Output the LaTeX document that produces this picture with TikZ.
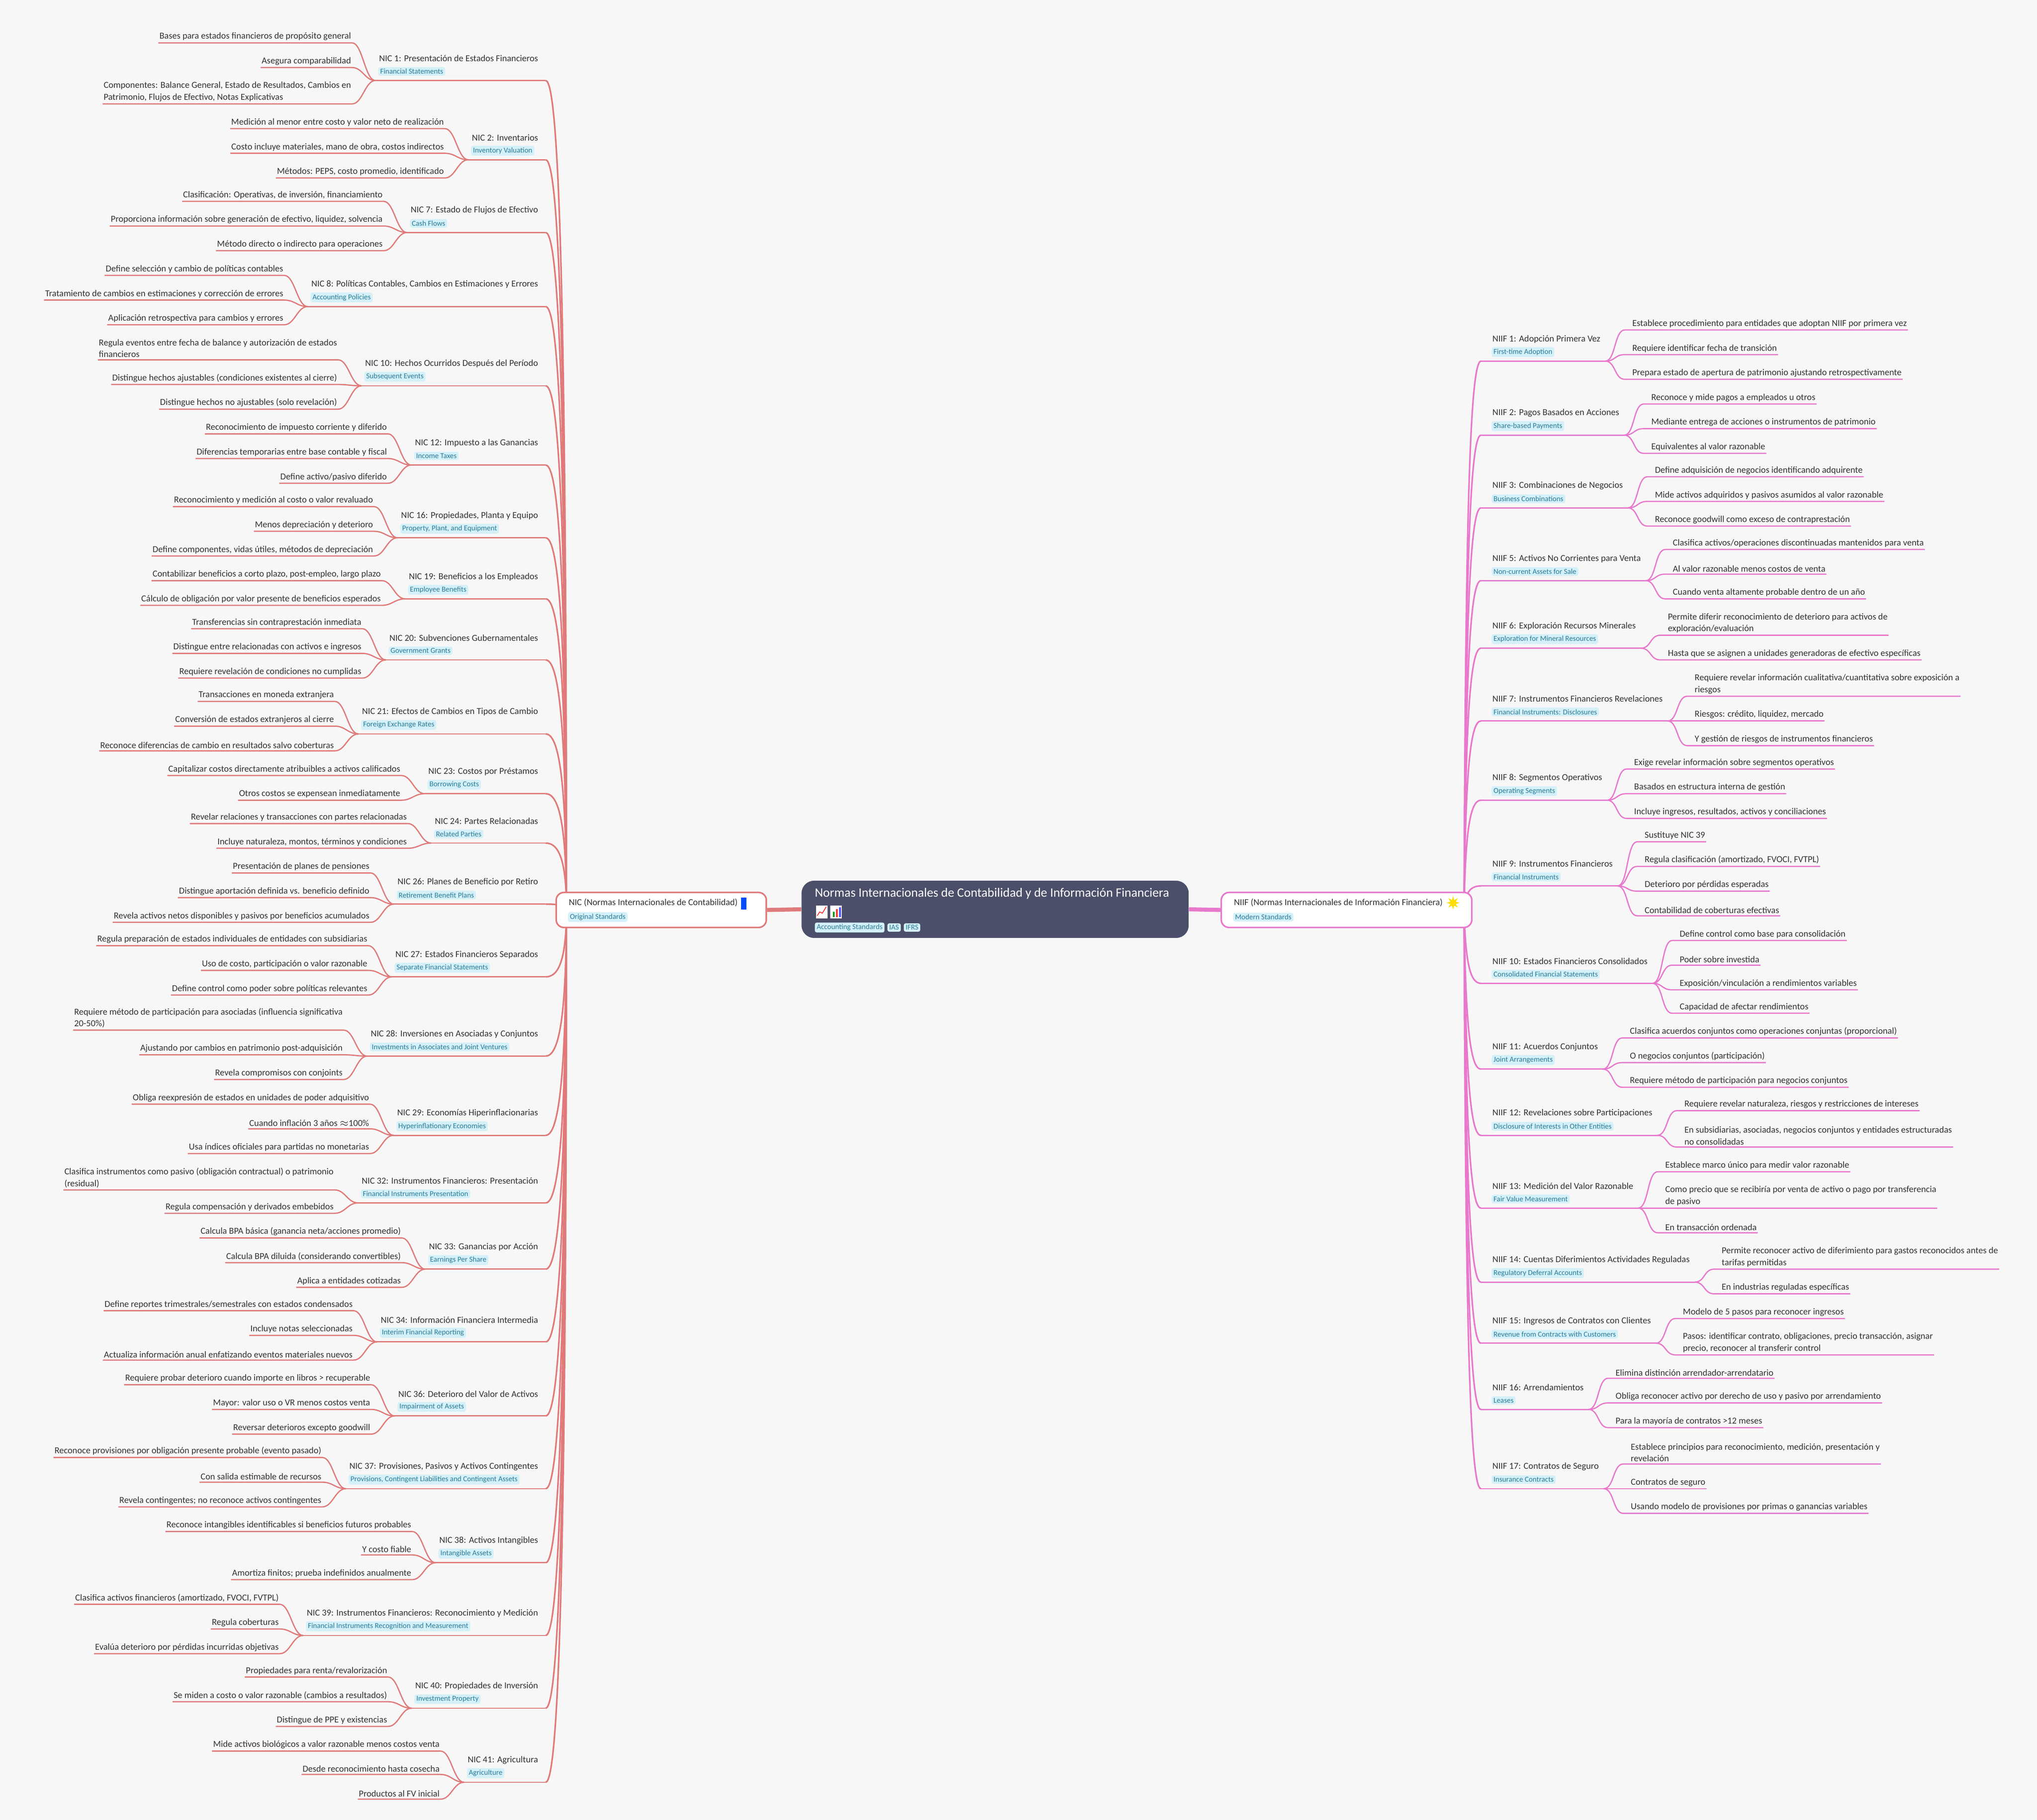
\documentclass[tikz,border=0pt]{standalone}
\usepackage{fontspec}
\setmainfont{Carlito}
\usetikzlibrary{shapes.geometric,calc}
\definecolor{bg}{HTML}{F7F7F7}
\definecolor{cL}{HTML}{E07A7A}
\definecolor{cR}{HTML}{E878CC}
\definecolor{tagf}{HTML}{D4F0F8}
\definecolor{tagt}{HTML}{2B7C9C}
\definecolor{ctr}{HTML}{4B4F6A}
\definecolor{txt}{HTML}{333333}
\newcommand\fLeaf{\fontsize{5.85pt}{7.6pt}\selectfont}
\newcommand\fTag{\fontsize{4.8pt}{5.4pt}\selectfont}
\tikzset{
 leaf/.style={inner xsep=0.5pt,inner ysep=1.3pt,align=left,text=txt,font=\fLeaf},
 ttl/.style={inner sep=0.5pt,text=txt,font=\fLeaf},
 tag/.style={fill=tagf,text=tagt,font=\fTag,rounded corners=1.2pt,inner xsep=1.2pt,inner ysep=1.1pt},
 lcL/.style={draw=cL,line width=0.8pt},
 lcR/.style={draw=cR,line width=0.8pt},
 bL/.style={draw=cL,line width=1pt},
 bR/.style={draw=cR,line width=1pt}
}
% left topic: id, title y, title, tag
\newcommand\Lt[4]{%
 \node[ttl,anchor=east] (#1) at (415,#2) {#3};
 \node[tag,anchor=west] (#1g) at (#1.west |- 0,#2+10) {#4};
 \path (#1.west |- 0,#2+17) ++(-2,0) coordinate (#1a);
 \coordinate (#1b) at (420,#2+17);
 \draw[lcL] (#1a) -- (#1b);
 \draw[bL] (#1b) .. controls (430,#2+17) and (436,{#2+17+(700-(#2+17))*0.25}) .. (nicL);
}
\newcommand\Ll[3]{%
 \path (#1a) ++(-18,0) coordinate (tmp);
 \node[leaf,anchor=south east] (#1-#2) at (tmp |- 0,#2) {#3};
 \draw[lcL] (#1-#2.south west) -- (#1-#2.south east) .. controls +(8,0) and +(-8,0) .. (#1a);
}
\newcommand\Rt[4]{%
 \node[ttl,anchor=west] (#1) at (1148,#2) {#3};
 \node[tag,anchor=west] (#1g) at (#1.west |- 0,#2+10) {#4};
 \coordinate (#1a) at (1140,#2+17);
 \path (#1.east |- 0,#2+17) ++(3,0) coordinate (#1b);
 \draw[bR] (niifR) .. controls (1128,{700+((#2+17)-700)*0.75}) and (1132,#2+17) .. (#1a);
 \draw[lcR] (#1a) -- (#1b);
}
\newcommand\Rl[3]{%
 \path (#1b) ++(15,0) coordinate (tmp);
 \path (tmp |- 0,#2) coordinate (#1s#2) ++(5,0) coordinate (tmpb);
 \node[leaf,anchor=south west] (#1-#2) at (tmpb) {#3};
 \draw[lcR] (#1b) .. controls +(8,0) and +(-8,0) .. (#1s#2) -- (#1-#2.south east);
}
\begin{document}
\begin{tikzpicture}[x=0.02929cm,y=-0.02929cm]
\fill[bg] (0,0) rectangle (1568,1401);
\useasboundingbox (0,0) rectangle (1568,1401);
\coordinate (nicL) at (436,700);
\coordinate (niifR) at (1127,700);

\Lt{a1}{45}{NIC 1: Presentación de Estados Financieros}{Financial Statements}
\Ll{a1}{33}{Bases para estados financieros de propósito general}
\Ll{a1}{52}{Asegura comparabilidad}
\Ll{a1}{80}{Componentes: Balance General, Estado de Resultados, Cambios en\\Patrimonio, Flujos de Efectivo, Notas Explicativas}
\Lt{a2}{106}{NIC 2: Inventarios}{Inventory Valuation}
\Ll{a2}{99}{Medición al menor entre costo y valor neto de realización}
\Ll{a2}{118}{Costo incluye materiales, mano de obra, costos indirectos}
\Ll{a2}{137}{Métodos: PEPS, costo promedio, identificado}
\Lt{a7}{162}{NIC 7: Estado de Flujos de Efectivo}{Cash Flows}
\Ll{a7}{155}{Clasificación: Operativas, de inversión, financiamiento}
\Ll{a7}{174}{Proporciona información sobre generación de efectivo, liquidez, solvencia}
\Ll{a7}{193}{Método directo o indirecto para operaciones}
\Lt{a8}{219}{NIC 8: Políticas Contables, Cambios en Estimaciones y Errores}{Accounting Policies}
\Ll{a8}{212}{Define selección y cambio de políticas contables}
\Ll{a8}{231}{Tratamiento de cambios en estimaciones y corrección de errores}
\Ll{a8}{250}{Aplicación retrospectiva para cambios y errores}
\Lt{a10}{280}{NIC 10: Hechos Ocurridos Después del Período}{Subsequent Events}
\Ll{a10}{277}{Regula eventos entre fecha de balance y autorización de estados\\financieros}
\Ll{a10}{296}{Distingue hechos ajustables (condiciones existentes al cierre)}
\Ll{a10}{315}{Distingue hechos no ajustables (solo revelación)}
\Lt{a12}{341}{NIC 12: Impuesto a las Ganancias}{Income Taxes}
\Ll{a12}{334}{Reconocimiento de impuesto corriente y diferido}
\Ll{a12}{353}{Diferencias temporarias entre base contable y fiscal}
\Ll{a12}{372}{Define activo/pasivo diferido}
\Lt{a16}{397}{NIC 16: Propiedades, Planta y Equipo}{Property, Plant, and Equipment}
\Ll{a16}{390}{Reconocimiento y medición al costo o valor revaluado}
\Ll{a16}{409}{Menos depreciación y deterioro}
\Ll{a16}{428}{Define componentes, vidas útiles, métodos de depreciación}
\Lt{a19}{444}{NIC 19: Beneficios a los Empleados}{Employee Benefits}
\Ll{a19}{447}{Contabilizar beneficios a corto plazo, post-empleo, largo plazo}
\Ll{a19}{466}{Cálculo de obligación por valor presente de beneficios esperados}
\Lt{a20}{491}{NIC 20: Subvenciones Gubernamentales}{Government Grants}
\Ll{a20}{484}{Transferencias sin contraprestación inmediata}
\Ll{a20}{503}{Distingue entre relacionadas con activos e ingresos}
\Ll{a20}{522}{Requiere revelación de condiciones no cumplidas}
\Lt{a21}{548}{NIC 21: Efectos de Cambios en Tipos de Cambio}{Foreign Exchange Rates}
\Ll{a21}{540}{Transacciones en moneda extranjera}
\Ll{a21}{559}{Conversión de estados extranjeros al cierre}
\Ll{a21}{578}{Reconoce diferencias de cambio en resultados salvo coberturas}
\Lt{a23}{594}{NIC 23: Costos por Préstamos}{Borrowing Costs}
\Ll{a23}{597}{Capitalizar costos directamente atribuibles a activos calificados}
\Ll{a23}{616}{Otros costos se expensean inmediatamente}
\Lt{a24}{632}{NIC 24: Partes Relacionadas}{Related Parties}
\Ll{a24}{634}{Revelar relaciones y transacciones con partes relacionadas}
\Ll{a24}{653}{Incluye naturaleza, montos, términos y condiciones}
\Lt{a26}{679}{NIC 26: Planes de Beneficio por Retiro}{Retirement Benefit Plans}
\Ll{a26}{672}{Presentación de planes de pensiones}
\Ll{a26}{691}{Distingue aportación definida vs. beneficio definido}
\Ll{a26}{710}{Revela activos netos disponibles y pasivos por beneficios acumulados}
\Lt{a27}{735}{NIC 27: Estados Financieros Separados}{Separate Financial Statements}
\Ll{a27}{728}{Regula preparación de estados individuales de entidades con subsidiarias}
\Ll{a27}{747}{Uso de costo, participación o valor razonable}
\Ll{a27}{766}{Define control como poder sobre políticas relevantes}
\Lt{a28}{796}{NIC 28: Inversiones en Asociadas y Conjuntos}{Investments in Associates and Joint Ventures}
\Ll{a28}{793}{Requiere método de participación para asociadas (influencia significativa\\20-50\%)}
\Ll{a28}{812}{Ajustando por cambios en patrimonio post-adquisición}
\Ll{a28}{831}{Revela compromisos con conjoints}
\Lt{a29}{857}{NIC 29: Economías Hiperinflacionarias}{Hyperinflationary Economies}
\Ll{a29}{850}{Obliga reexpresión de estados en unidades de poder adquisitivo}
\Ll{a29}{869}{Cuando inflación 3 años $\approx$100\%}
\Ll{a29}{888}{Usa índices oficiales para partidas no monetarias}
\Lt{a32}{909}{NIC 32: Instrumentos Financieros: Presentación}{Financial Instruments Presentation}
\Ll{a32}{916}{Clasifica instrumentos como pasivo (obligación contractual) o patrimonio\\(residual)}
\Ll{a32}{934}{Regula compensación y derivados embebidos}
\Lt{a33}{960}{NIC 33: Ganancias por Acción}{Earnings Per Share}
\Ll{a33}{953}{Calcula BPA básica (ganancia neta/acciones promedio)}
\Ll{a33}{972}{Calcula BPA diluida (considerando convertibles)}
\Ll{a33}{991}{Aplica a entidades cotizadas}
\Lt{a34}{1016}{NIC 34: Información Financiera Intermedia}{Interim Financial Reporting}
\Ll{a34}{1009}{Define reportes trimestrales/semestrales con estados condensados}
\Ll{a34}{1028}{Incluye notas seleccionadas}
\Ll{a34}{1047}{Actualiza información anual enfatizando eventos materiales nuevos}
\Lt{a36}{1073}{NIC 36: Deterioro del Valor de Activos}{Impairment of Assets}
\Ll{a36}{1066}{Requiere probar deterioro cuando importe en libros > recuperable}
\Ll{a36}{1085}{Mayor: valor uso o VR menos costos venta}
\Ll{a36}{1104}{Reversar deterioros excepto goodwill}
\Lt{a37}{1129}{NIC 37: Provisiones, Pasivos y Activos Contingentes}{Provisions, Contingent Liabilities and Contingent Assets}
\Ll{a37}{1122}{Reconoce provisiones por obligación presente probable (evento pasado)}
\Ll{a37}{1141}{Con salida estimable de recursos}
\Ll{a37}{1160}{Revela contingentes; no reconoce activos contingentes}
\Lt{a38}{1186}{NIC 38: Activos Intangibles}{Intangible Assets}
\Ll{a38}{1179}{Reconoce intangibles identificables si beneficios futuros probables}
\Ll{a38}{1197}{Y costo fiable}
\Ll{a38}{1216}{Amortiza finitos; prueba indefinidos anualmente}
\Lt{a39}{1242}{NIC 39: Instrumentos Financieros: Reconocimiento y Medición}{Financial Instruments Recognition and Measurement}
\Ll{a39}{1235}{Clasifica activos financieros (amortizado, FVOCI, FVTPL)}
\Ll{a39}{1254}{Regula coberturas}
\Ll{a39}{1273}{Evalúa deterioro por pérdidas incurridas objetivas}
\Lt{a40}{1298}{NIC 40: Propiedades de Inversión}{Investment Property}
\Ll{a40}{1291}{Propiedades para renta/revalorización}
\Ll{a40}{1310}{Se miden a costo o valor razonable (cambios a resultados)}
\Ll{a40}{1329}{Distingue de PPE y existencias}
\Lt{a41}{1355}{NIC 41: Agricultura}{Agriculture}
\Ll{a41}{1348}{Mide activos biológicos a valor razonable menos costos venta}
\Ll{a41}{1366}{Desde reconocimiento hasta cosecha}
\Ll{a41}{1385}{Productos al FV inicial}

\Rt{b1}{261}{NIIF 1: Adopción Primera Vez}{First-time Adoption}
\Rl{b1}{254}{Establece procedimiento para entidades que adoptan NIIF por primera vez}
\Rl{b1}{273}{Requiere identificar fecha de transición}
\Rl{b1}{292}{Prepara estado de apertura de patrimonio ajustando retrospectivamente}
\Rt{b2}{318}{NIIF 2: Pagos Basados en Acciones}{Share-based Payments}
\Rl{b2}{311}{Reconoce y mide pagos a empleados u otros}
\Rl{b2}{330}{Mediante entrega de acciones o instrumentos de patrimonio}
\Rl{b2}{349}{Equivalentes al valor razonable}
\Rt{b3}{374}{NIIF 3: Combinaciones de Negocios}{Business Combinations}
\Rl{b3}{367}{Define adquisición de negocios identificando adquirente}
\Rl{b3}{386}{Mide activos adquiridos y pasivos asumidos al valor razonable}
\Rl{b3}{405}{Reconoce goodwill como exceso de contraprestación}
\Rt{b5}{430}{NIIF 5: Activos No Corrientes para Venta}{Non-current Assets for Sale}
\Rl{b5}{423}{Clasifica activos/operaciones discontinuadas mantenidos para venta}
\Rl{b5}{442}{Al valor razonable menos costos de venta}
\Rl{b5}{461}{Cuando venta altamente probable dentro de un año}
\Rt{b6}{482}{NIIF 6: Exploración Recursos Minerales}{Exploration for Mineral Resources}
\Rl{b6}{489}{Permite diferir reconocimiento de deterioro para activos de\\exploración/evaluación}
\Rl{b6}{508}{Hasta que se asignen a unidades generadoras de efectivo específicas}
\Rt{b7}{538}{NIIF 7: Instrumentos Financieros Revelaciones}{Financial Instruments: Disclosures}
\Rl{b7}{536}{Requiere revelar información cualitativa/cuantitativa sobre exposición a\\riesgos}
\Rl{b7}{555}{Riesgos: crédito, liquidez, mercado}
\Rl{b7}{574}{Y gestión de riesgos de instrumentos financieros}
\Rt{b8}{599}{NIIF 8: Segmentos Operativos}{Operating Segments}
\Rl{b8}{592}{Exige revelar información sobre segmentos operativos}
\Rl{b8}{611}{Basados en estructura interna de gestión}
\Rl{b8}{630}{Incluye ingresos, resultados, activos y conciliaciones}
\Rt{b9}{665}{NIIF 9: Instrumentos Financieros}{Financial Instruments}
\Rl{b9}{648}{Sustituye NIC 39}
\Rl{b9}{667}{Regula clasificación (amortizado, FVOCI, FVTPL)}
\Rl{b9}{686}{Deterioro por pérdidas esperadas}
\Rl{b9}{705}{Contabilidad de coberturas efectivas}
\Rt{b10}{740}{NIIF 10: Estados Financieros Consolidados}{Consolidated Financial Statements}
\Rl{b10}{724}{Define control como base para consolidación}
\Rl{b10}{743}{Poder sobre investida}
\Rl{b10}{762}{Exposición/vinculación a rendimientos variables}
\Rl{b10}{780}{Capacidad de afectar rendimientos}
\Rt{b11}{806}{NIIF 11: Acuerdos Conjuntos}{Joint Arrangements}
\Rl{b11}{799}{Clasifica acuerdos conjuntos como operaciones conjuntas (proporcional)}
\Rl{b11}{818}{O negocios conjuntos (participación)}
\Rl{b11}{837}{Requiere método de participación para negocios conjuntos}
\Rt{b12}{857}{NIIF 12: Revelaciones sobre Participaciones}{Disclosure of Interests in Other Entities}
\Rl{b12}{855}{Requiere revelar naturaleza, riesgos y restricciones de intereses}
\Rl{b12}{883}{En subsidiarias, asociadas, negocios conjuntos y entidades estructuradas\\no consolidadas}
\Rt{b13}{913}{NIIF 13: Medición del Valor Razonable}{Fair Value Measurement}
\Rl{b13}{902}{Establece marco único para medir valor razonable}
\Rl{b13}{930}{Como precio que se recibiría por venta de activo o pago por transferencia\\de pasivo}
\Rl{b13}{949}{En transacción ordenada}
\Rt{b14}{970}{NIIF 14: Cuentas Diferimientos Actividades Reguladas}{Regulatory Deferral Accounts}
\Rl{b14}{977}{Permite reconocer activo de diferimiento para gastos reconocidos antes de\\tarifas permitidas}
\Rl{b14}{996}{En industrias reguladas específicas}
\Rt{b15}{1017}{NIIF 15: Ingresos de Contratos con Clientes}{Revenue from Contracts with Customers}
\Rl{b15}{1015}{Modelo de 5 pasos para reconocer ingresos}
\Rl{b15}{1043}{Pasos: identificar contrato, obligaciones, precio transacción, asignar\\precio, reconocer al transferir control}
\Rt{b16}{1068}{NIIF 16: Arrendamientos}{Leases}
\Rl{b16}{1061}{Elimina distinción arrendador-arrendatario}
\Rl{b16}{1080}{Obliga reconocer activo por derecho de uso y pasivo por arrendamiento}
\Rl{b16}{1099}{Para la mayoría de contratos >12 meses}
\Rt{b17}{1129}{NIIF 17: Contratos de Seguro}{Insurance Contracts}
\Rl{b17}{1127}{Establece principios para reconocimiento, medición, presentación y\\revelación}
\Rl{b17}{1146}{Contratos de seguro}
\Rl{b17}{1165}{Usando modelo de provisiones por primas o ganancias variables}

% branch nodes
\node[draw=cL,line width=1pt,fill=white,rounded corners=5pt,minimum width=4.74cm,minimum height=0.79cm] (nic) at (509,700.5) {};
\node[ttl,anchor=west] (nict) at (437,695) {NIC (Normas Internacionales de Contabilidad)};
\fill[blue!70!cyan] ([xshift=1.5pt]nict.north east) rectangle ++(4,9);
\node[tag,anchor=west] (nicg) at (437,706) {Original Standards};
\node[draw=cR,line width=1pt,fill=white,rounded corners=5pt,minimum width=5.65cm,minimum height=0.79cm] (niif) at (1036.5,700.5) {};
\node[ttl,anchor=west] (niift) at (949,695) {NIIF (Normas Internacionales de Información Financiera)};
\node[star,star points=8,star point ratio=2.2,fill=yellow!80!orange,inner sep=0pt,minimum size=0.3cm,anchor=west] at ([xshift=1pt]niift.east) {};
\node[tag,anchor=west] (niifg) at (949,706) {Modern Standards};

% center
\node[fill=ctr,rounded corners=8pt,minimum width=8.73cm,minimum height=1.29cm] (c) at (766,700) {};
\draw[cL,line width=2.6pt] (nic.east) -- (c.west);
\draw[cR,line width=2.6pt] (c.east) -- (niif.west);
\node[anchor=west,text=white,inner sep=0pt,font=\fontsize{8.2pt}{9pt}\selectfont] (ct) at (627,688) {Normas Internacionales de Contabilidad y de Información Financiera};
\fill[white] (628,697) rectangle (637,707);
\draw[red,line width=0.4pt] (629,705) -- (631,702) -- (633,703) -- (636,698);
\fill[white] (639,697) rectangle (648,707);
\fill[green!60!black] (641,702) rectangle (642.5,706);
\fill[red!80] (643.5,700) rectangle (645,706);
\fill[blue!70] (646,698.5) rectangle (647.3,706);
\node[tag,anchor=west] (t1) at (627,714) {Accounting Standards};
\node[tag,anchor=west] (t2) at ([xshift=1.5pt]t1.east) {IAS};
\node[tag,anchor=west] (t3) at ([xshift=1.5pt]t2.east) {IFRS};
\end{tikzpicture}
\end{document}
